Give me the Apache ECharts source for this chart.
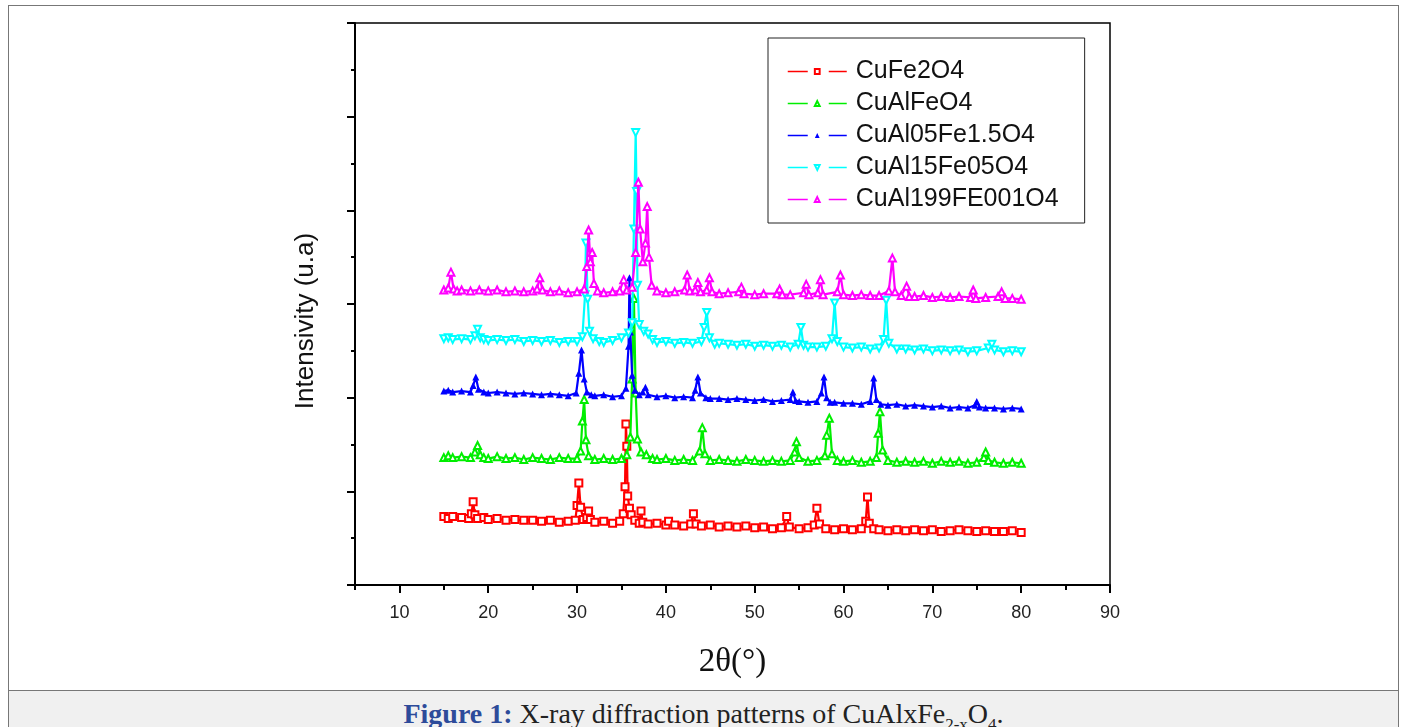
<!DOCTYPE html>
<html>
<head>
<meta charset="utf-8">
<script src="https://cdn.jsdelivr.net/npm/echarts@6/dist/echarts.min.js"></script>
<style>
  html, body { margin: 0; padding: 0; background: #fff; }
  #frame { position: absolute; left: 8px; top: 5px; width: 1391px; height: 760px; border: 1px solid #777; box-sizing: border-box; pointer-events: none; }
  #chart { position: absolute; left: 0; top: 0; width: 1406px; height: 690px; }
  #caption { position: absolute; left: 9px; top: 690px; width: 1389px; height: 60px; background: #f0f0f0; border-top: 1px solid #777;
             text-align: center; font-family: "Liberation Serif", "DejaVu Serif", serif; font-size: 28px; color: #222; line-height: 45px; }
  #caption b { color: #2d4b9a; }
  #caption sub { font-size: 17px; }
</style>
</head>
<body>
<div id="chart"></div>
<div id="caption"><b>Figure 1:</b> X-ray diffraction patterns of CuAlxFe<sub>2-x</sub>O<sub>4</sub>.</div>
<div id="frame"></div>
<script>
// 系列名称
var names = ['CuFe2O4', 'CuAlFeO4', 'CuAl05Fe1.5O4', 'CuAl15Fe05O4', 'CuAl199FE001O4'];
var colors = ['#ff0000', '#00ee00', '#0000ff', '#00ffff', '#ff00ff'];

// 刻度
var xMajorTicks = [10, 20, 30, 40, 50, 60, 70, 80, 90];
var xMinorTicks = [5, 15, 25, 35, 45, 55, 65, 75, 85];

// 2θ, 强度
var cuFe2O4 = [[15,7.3],[15.5,7.1],[16,7.3],[17,7.2],[17.8,7.1],[18.1,7.6],[18.3,8.9],[18.5,7.5],[18.8,7.1],[19.5,7.2],[20,7.0],[21,7.1],[22,6.9],[23,7.0],[24,6.9],[25,6.9],[26,6.8],[27,6.9],[28,6.7],[29,6.8],[29.8,6.9],[30.0,8.5],[30.2,10.9],[30.4,8.3],[30.7,7.0],[31.1,7.2],[31.3,7.9],[31.5,7.0],[32,6.7],[33,6.8],[34,6.6],[34.8,6.8],[35.2,7.6],[35.4,10.5],[35.5,17.2],[35.6,14.8],[35.7,9.5],[35.9,8.2],[36.1,7.5],[36.5,6.9],[37.0,6.6],[37.2,7.9],[37.4,6.7],[38,6.5],[39,6.6],[40,6.4],[40.3,6.8],[41,6.4],[42,6.3],[42.8,6.5],[43.1,7.6],[43.4,6.5],[44,6.3],[45,6.4],[46,6.2],[47,6.3],[48,6.2],[49,6.3],[50,6.1],[51,6.2],[52,6.0],[53,6.1],[53.6,7.3],[53.9,6.2],[55,6.0],[56,6.1],[56.7,6.4],[57.0,8.2],[57.3,6.5],[58,6.0],[59,5.9],[60,6.0],[61,5.9],[62,6.0],[62.5,6.8],[62.7,9.4],[62.9,6.6],[63.4,6.0],[64,5.9],[65,5.8],[66,5.9],[67,5.8],[68,5.9],[69,5.8],[70,5.9],[71,5.7],[72,5.8],[73,5.9],[74,5.8],[75,5.7],[76,5.8],[77,5.7],[78,5.7],[79,5.8],[80,5.6]];

var cuAlFeO4 = [[15,13.6],[15.5,13.8],[16,13.6],[17,13.7],[18,13.6],[18.5,14.2],[18.8,14.9],[19.1,13.9],[19.5,13.6],[20,13.5],[21,13.7],[22,13.5],[23,13.6],[24,13.4],[25,13.6],[26,13.5],[27,13.4],[28,13.6],[29,13.5],[30,13.5],[30.4,14.3],[30.6,17.5],[30.8,19.8],[31.0,15.5],[31.3,13.8],[32,13.4],[33,13.5],[34,13.4],[35,13.5],[35.6,13.9],[36.0,15.8],[36.2,22.0],[36.4,30.6],[36.6,20.5],[36.8,15.6],[37.2,14.2],[37.8,13.9],[38.5,13.5],[39,13.4],[40,13.5],[41,13.3],[42,13.4],[43,13.3],[43.8,14.3],[44.1,16.8],[44.4,14.0],[45,13.3],[46,13.4],[47,13.3],[48,13.2],[49,13.4],[50,13.3],[51,13.2],[52,13.3],[53,13.2],[54,13.3],[54.5,14.2],[54.7,15.3],[55.0,13.6],[56,13.2],[57,13.3],[57.9,13.8],[58.1,16.0],[58.4,17.8],[58.7,14.0],[59.3,13.3],[60,13.2],[61,13.3],[62,13.1],[63,13.2],[63.7,13.6],[63.9,16.2],[64.1,18.5],[64.4,14.4],[65,13.3],[66,13.1],[67,13.2],[68,13.1],[69,13.2],[70,13.0],[71,13.2],[72,13.1],[73,13.2],[74,13.0],[75,13.1],[75.8,13.6],[76.0,14.2],[76.3,13.3],[77,13.1],[78,13.0],[79,13.1],[80,13.0]];

var cuAl05Fe15O4 = [[15,20.7],[15.5,20.8],[16,20.6],[17,20.7],[18,20.6],[18.3,21.3],[18.6,22.2],[18.9,20.9],[19.5,20.6],[20,20.5],[21,20.6],[22,20.5],[23,20.4],[24,20.5],[25,20.4],[26,20.3],[27,20.4],[28,20.3],[29,20.2],[29.9,20.5],[30.2,22.6],[30.5,25.1],[30.8,22.0],[31.1,20.6],[31.6,20.3],[32,20.2],[33,20.3],[34,20.1],[35,20.2],[35.5,21.0],[35.8,25.5],[35.9,32.8],[36.0,27.0],[36.2,22.4],[36.5,20.8],[37.0,20.3],[37.4,20.6],[37.7,21.1],[38.0,20.3],[39,20.1],[40,20.2],[41,20.0],[42,20.1],[43,20.0],[43.3,20.8],[43.6,22.2],[43.9,20.5],[44.5,20.0],[45,19.9],[46,19.9],[47,19.8],[48,19.9],[49,19.8],[50,19.7],[51,19.8],[52,19.6],[53,19.7],[54.0,19.8],[54.3,20.6],[54.6,19.7],[55,19.6],[56,19.5],[57,19.6],[57.5,20.5],[57.8,22.2],[58.1,20.0],[58.5,19.5],[59,19.5],[60,19.4],[61,19.4],[62,19.3],[63.0,19.6],[63.4,22.1],[63.7,19.8],[64.2,19.3],[65,19.2],[66,19.3],[67,19.1],[68,19.2],[69,19.1],[70,19.0],[71,19.1],[72,18.9],[73,19.0],[74,18.9],[74.8,19.2],[75.0,19.6],[75.3,19.0],[76,18.9],[77,18.9],[78,18.8],[79,18.9],[80,18.8]];

var cuAl15Fe05O4 = [[15,26.3],[15.5,26.4],[16,26.2],[17,26.3],[18,26.2],[18.5,26.6],[18.8,27.3],[19.1,26.4],[19.5,26.2],[20,26.1],[21,26.2],[22,26.1],[23,26.2],[24,26.0],[25,26.1],[26,26.0],[27,26.1],[28,25.9],[29,26.0],[30,26.0],[30.6,26.5],[30.9,31.0],[31.0,36.5],[31.2,30.5],[31.4,27.1],[31.8,26.3],[32.5,26.0],[33,25.9],[34,26.1],[35,26.4],[35.8,26.9],[36.2,28.0],[36.4,38.0],[36.6,48.3],[36.7,42.0],[36.8,32.0],[37.0,27.8],[37.5,27.1],[38.0,26.8],[38.5,26.2],[39,25.9],[40,26.0],[41,25.8],[42,25.9],[43,25.8],[44.0,26.0],[44.3,27.5],[44.6,29.1],[44.9,26.4],[45.5,25.7],[46,25.8],[47,25.7],[48,25.6],[49,25.7],[50,25.5],[51,25.6],[52,25.5],[53,25.6],[54,25.4],[54.9,25.7],[55.2,27.5],[55.5,25.6],[56,25.4],[57,25.4],[58,25.5],[58.7,26.3],[59.0,30.1],[59.3,26.0],[60,25.4],[61,25.3],[62,25.4],[63,25.2],[64,25.3],[64.5,26.2],[64.8,30.4],[65.1,25.8],[66,25.2],[67,25.2],[68,25.1],[69,25.2],[70,25.0],[71,25.1],[72,25.0],[73,25.1],[74,24.9],[75,25.0],[76.3,25.3],[76.7,25.7],[77.0,25.1],[78,24.9],[79,25.0],[80,24.9]];

var cuAl199Fe001O4 = [[15,31.5],[15.5,31.7],[15.8,33.4],[16.1,31.6],[16.5,31.4],[17,31.5],[18,31.4],[19,31.5],[20,31.4],[21,31.5],[22,31.3],[23,31.4],[24,31.3],[25,31.4],[25.5,31.6],[25.8,32.8],[26.1,31.5],[27,31.3],[28,31.4],[29,31.2],[30,31.3],[30.8,31.6],[31.1,34.0],[31.3,37.9],[31.5,34.5],[31.7,35.5],[31.9,32.2],[32.3,31.4],[33,31.2],[34,31.3],[34.8,31.4],[35.25,32.6],[35.6,31.5],[36.2,31.8],[36.6,35.5],[36.9,43.0],[37.1,38.0],[37.4,34.5],[37.7,36.5],[37.9,40.4],[38.1,35.0],[38.4,32.0],[39,31.4],[40,31.2],[41,31.3],[42.1,31.5],[42.4,33.1],[42.7,31.4],[43.3,31.5],[43.6,32.3],[43.9,31.3],[44.6,31.5],[44.9,32.8],[45.2,31.3],[46,31.1],[47,31.2],[48.2,31.3],[48.5,31.8],[48.8,31.1],[50,31.0],[51,31.1],[52.5,31.1],[52.8,31.6],[53.1,31.0],[54,31.0],[55.5,31.2],[55.8,32.1],[56.1,31.0],[57.1,31.2],[57.4,32.6],[57.7,31.0],[59.3,31.3],[59.65,33.1],[60.0,31.0],[61,30.9],[62,31.0],[63,30.9],[64,30.9],[65.1,31.4],[65.5,34.9],[65.8,31.3],[66.5,30.9],[67.1,31.9],[67.4,30.8],[68,30.8],[69,30.9],[70,30.7],[71,30.8],[72,30.7],[73,30.8],[74.3,30.7],[74.6,31.5],[74.9,30.6],[76,30.7],[77.4,30.8],[77.8,31.3],[78.2,30.6],[79,30.6],[80,30.5]];

var seriesData = [cuFe2O4, cuAlFeO4, cuAl05Fe15O4, cuAl15Fe05O4, cuAl199Fe001O4];
var symbols = ['emptyRect', 'emptyTriangle', 'triangle', 'emptyTriangle', 'emptyTriangle'];
var rotates = [0, 0, 0, 180, 0];

var e = echarts.init(document.getElementById('chart'));

var series = [];
for (var i = 0; i < names.length; i++) {
    series.push({
        name: names[i],
        type: 'line',
        data: seriesData[i],
        symbol: symbols[i],
        symbolRotate: rotates[i],
        symbolSize: 7,
        showSymbol: true,
        color: colors[i],
        lineStyle: { width: 2.2, color: colors[i] },
        itemStyle: { color: colors[i], borderWidth: 1.6 },
        z: 2 + i
    });
}

var option = {
    animation: false,
    grid: {
        left: 355, top: 23, width: 755, height: 562,
        show: true, borderColor: '#000', borderWidth: 1.5
    },
    legend: {
        orient: 'vertical',
        left: 768, top: 38,
        padding: [21, 26, 11, 19],
        itemGap: 7,
        itemWidth: 59,
        itemHeight: 6,
        borderColor: '#222', borderWidth: 1,
        lineStyle: { type: [20, 21], width: 1.5 },
        textStyle: { fontFamily: 'Liberation Sans, Arial', fontSize: 25, color: '#111', lineHeight: 25, padding: [0, 0, 0, 4] },
        data: names
    },
    xAxis: [
        {
            type: 'value', min: 5, max: 90, interval: 5,
            name: '2θ(°)', nameLocation: 'middle', nameGap: 61,
            nameTextStyle: { fontFamily: 'Liberation Serif, DejaVu Serif', fontSize: 33, color: '#111' },
            axisLine: { lineStyle: { color: '#000', width: 2 } },
            axisTick: { length: 8, lineStyle: { color: '#000', width: 2 }, customValues: xMajorTicks },
            axisLabel: { customValues: xMajorTicks, margin: 19, fontFamily: 'Liberation Sans Narrow, Liberation Sans', fontSize: 18, color: '#222' },
            splitLine: { show: false }
        },
        {
            type: 'value', min: 5, max: 90, interval: 5, position: 'bottom',
            axisLine: { show: false },
            axisTick: { length: 5, lineStyle: { color: '#000', width: 2 }, customValues: xMinorTicks },
            axisLabel: { show: false },
            splitLine: { show: false }
        }
    ],
    yAxis: {
        type: 'value', min: 0, max: 60, interval: 10,
        name: 'Intensivity (u.a)', nameLocation: 'middle', nameGap: 36,
        nameTextStyle: { fontFamily: 'Liberation Sans, Arial', fontSize: 26, color: '#111', padding: [0, 34, 0, 0] },
        axisLine: { show: true, lineStyle: { color: '#000', width: 2 } },
        axisTick: { show: true, length: 8, lineStyle: { color: '#000', width: 2 } },
        minorTick: { show: true, splitNumber: 2, length: 4, lineStyle: { color: '#000', width: 2 } },
        axisLabel: { show: false },
        splitLine: { show: false }
    },
    series: series
};

e.setOption(option);
</script>
</body>
</html>
